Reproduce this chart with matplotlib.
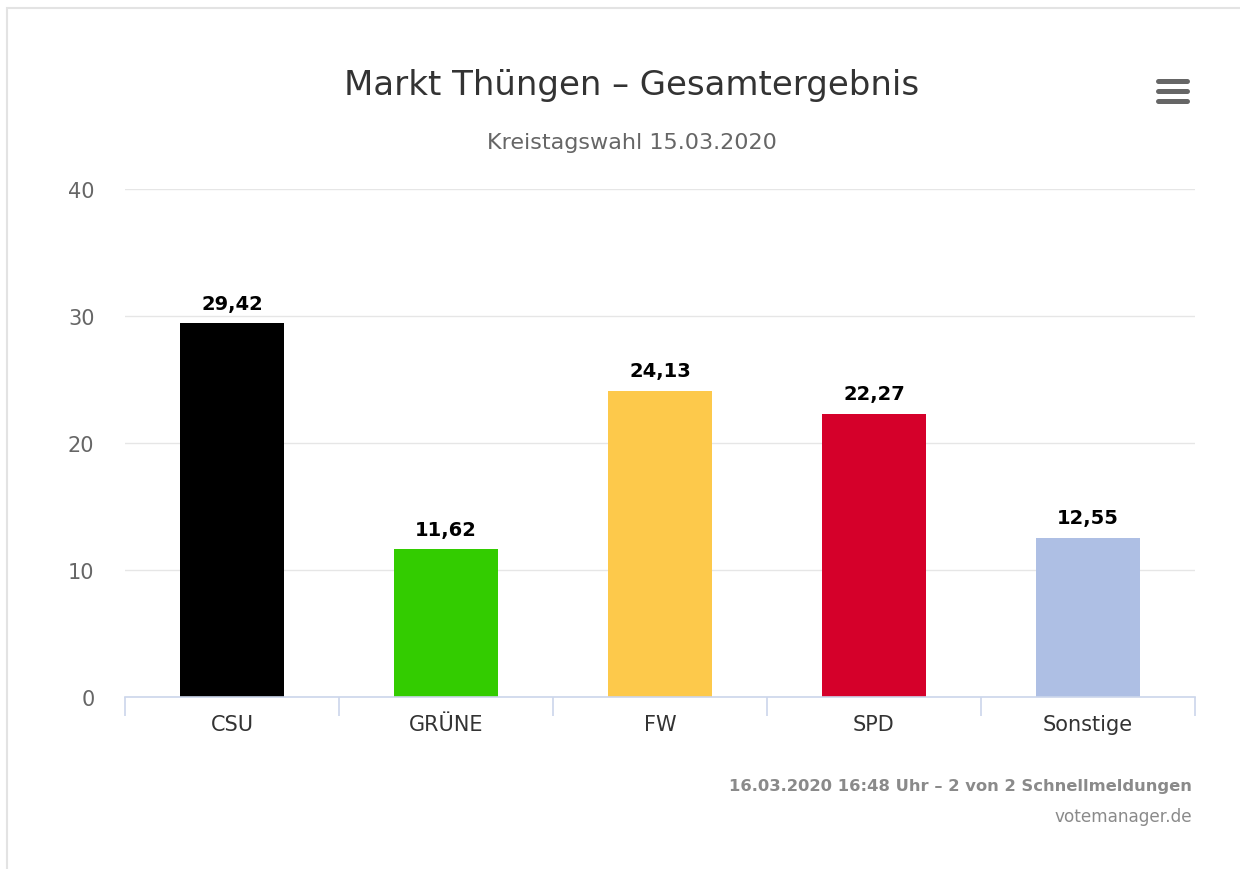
import matplotlib
matplotlib.use("Agg")
import matplotlib.pyplot as plt
from matplotlib.patches import Rectangle
from matplotlib.lines import Line2D

parties = ["CSU", "GRÜNE", "FW", "SPD", "Sonstige"]
votes = [29.42, 11.62, 24.13, 22.27, 12.55]
colors = ["#000000", "#33cc00", "#fdc94b", "#d5002a", "#aebfe4"]
yticks = [0, 10, 20, 30, 40]

plt.rcParams['font.family'] = ['DejaVu Sans']

fig = plt.figure(figsize=(12.4, 8.7), dpi=100)
W, H = 1240, 870

# outer frame of the widget
fig.patches.append(Rectangle((7 / W, -0.01), 1.0, 1 - 9 / H + 0.01, transform=fig.transFigure,
                             fill=False, edgecolor="#e3e3e3", linewidth=1.5))

ax = fig.add_axes([125 / W, 1 - 698 / H, (1195 - 125) / W, (698 - 190) / H])
x = range(len(parties))
bars = ax.bar(x, votes, width=0.49, color=colors, zorder=3)

for b, v in zip(bars, votes):
    ax.text(b.get_x() + b.get_width() / 2, v + 0.85, f"{v:.2f}".replace(".", ","),
            ha="center", va="bottom", fontsize=14, fontweight="bold", color="#000000")

ax.set_xlim(-0.5, len(parties) - 0.5)
ax.set_ylim(0, 40)
ax.set_yticks(yticks)
ax.set_yticklabels([str(t) for t in yticks])
ax.grid(axis="y", color="#e6e6e6", linewidth=1, zorder=0)
ax.set_axisbelow(True)
for s in ["top", "right", "left"]:
    ax.spines[s].set_visible(False)
ax.spines["bottom"].set_color("#ccd6eb")
ax.spines["bottom"].set_linewidth(1.2)
ax.spines["bottom"].set_zorder(4)

ax.tick_params(axis="y", length=0, labelsize=15, labelcolor="#666666", pad=22)
ax.set_xticks([i - 0.5 for i in range(len(parties) + 1)], minor=False)
ax.set_xticklabels([])
ax.tick_params(axis="x", which="major", length=14, color="#ccd6eb", width=1.2)
ax.set_xticks(list(x), minor=True)
ax.set_xticklabels(parties, minor=True)
ax.tick_params(axis="x", which="minor", length=0, labelsize=15, labelcolor="#333333", pad=12)

fig.text(632 / W, 1 - 85 / H, "Markt Thüngen – Gesamtergebnis", ha="center", va="center",
         fontsize=24.5, color="#333333")
fig.text(632 / W, 1 - 143 / H, "Kreistagswahl 15.03.2020", ha="center", va="center",
         fontsize=16, color="#666666")

fig.text(1192 / W, 1 - 787 / H, "16.03.2020 16:48 Uhr – 2 von 2 Schnellmeldungen",
         ha="right", va="center", fontsize=11.8, fontweight="bold", color="#8a8a8a")
fig.text(1192 / W, 1 - 817 / H, "votemanager.de", ha="right", va="center",
         fontsize=12.2, color="#8a8a8a")

# menu icon
for yy in [82, 92, 102]:
    fig.lines.append(Line2D([1158 / W, 1187 / W], [1 - yy / H, 1 - yy / H], transform=fig.transFigure,
                            color="#666666", linewidth=3.6, solid_capstyle="round"))

fig.savefig("out.png", dpi=100, facecolor="white")
